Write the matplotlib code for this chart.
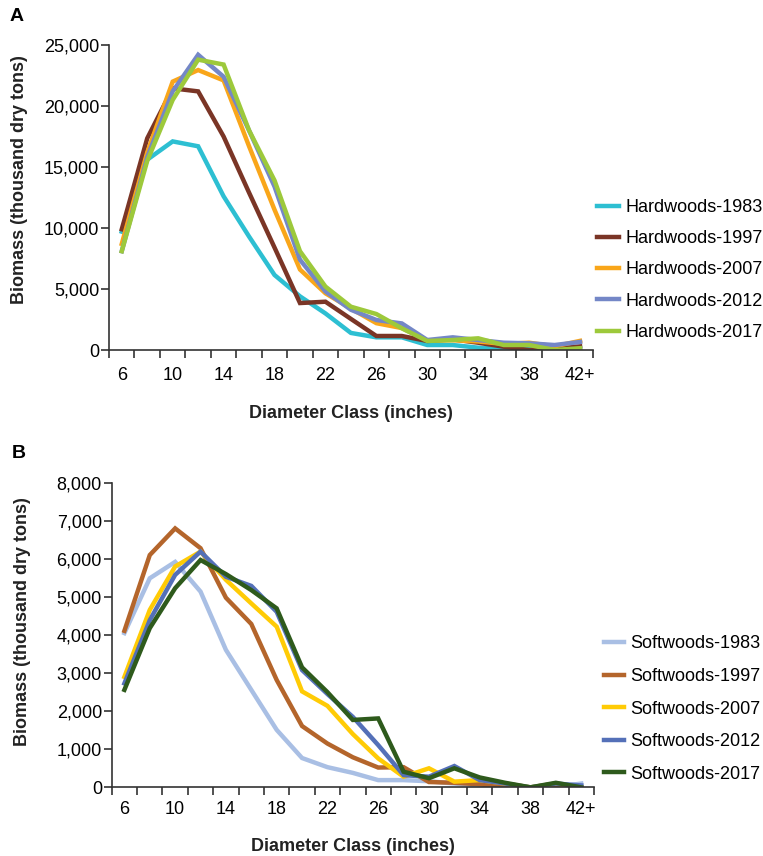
import numpy as np
import matplotlib
matplotlib.use('Agg')
import matplotlib.pyplot as plt
from matplotlib.ticker import FuncFormatter

plt.rcParams['font.family'] = ['Liberation Sans', 'DejaVu Sans']

#region Diameter classes (inches) and biomass (thousand dry tons).
classes = ['6', '8', '10', '12', '14', '16', '18', '20', '22', '24',
           '26', '28', '30', '32', '34', '36', '38', '40', '42+']

hw_years = ['1983', '1997', '2007', '2012', '2017']
hw_1983 = [9700, 15600, 17100, 16700, 12600, 9300, 6150, 4400, 3000, 1400,
           1040, 1040, 410, 410, 190, 80, 80, 80, 150]
hw_1997 = [9900, 17350, 21450, 21200, 17500, 12900, 8400, 3850, 3960, 2550,
           1150, 1150, 740, 870, 600, 270, 0, 150, 300]
hw_2007 = [8700, 16200, 22000, 22950, 22100, 16700, 11500, 6600, 4650, 3400,
           2200, 1800, 800, 800, 700, 500, 600, 300, 750]
hw_2012 = [8100, 15800, 21200, 24200, 22400, 18000, 13400, 7400, 4800, 3300,
           2460, 2180, 820, 1040, 820, 600, 550, 410, 660]
hw_2017 = [8100, 15500, 20500, 23800, 23400, 18000, 13900, 8100, 5200, 3550,
           2950, 1780, 740, 820, 960, 410, 410, 0, 150]
hw_colors = ['#2DBFD2', '#7A3526', '#F9A61A', '#7487C7', '#9DC93B']

sw_years = ['1983', '1997', '2007', '2012', '2017']
sw_1983 = [4050, 5490, 5920, 5140, 3610, 2560, 1510, 770, 530, 380,
           190, 190, 160, 100, 50, 10, 0, 10, 100]
sw_1997 = [4110, 6100, 6800, 6280, 4980, 4290, 2820, 1610, 1150, 790,
           520, 530, 140, 120, 80, 0, 0, 0, 0]
sw_2007 = [2900, 4660, 5800, 6190, 5450, 4830, 4220, 2520, 2140, 1400,
           760, 280, 500, 150, 190, 100, 0, 100, 0]
sw_2012 = [2730, 4390, 5580, 6190, 5530, 5290, 4610, 3080, 2450, 1850,
           1110, 320, 280, 560, 190, 100, 0, 100, 50]
sw_2017 = [2560, 4180, 5230, 5970, 5600, 5180, 4700, 3150, 2500, 1770,
           1810, 410, 240, 500, 260, 120, 0, 120, 0]
sw_colors = ['#A9BFE4', '#B4652B', '#FFCB05', '#5470B8', '#2E5A1C']
#endregion


def draw_panel(ax, series, years, colors, prefix, ymax, ystep, xpad, xlabpad, ylab_y):
    x = np.arange(len(classes))
    for vals, yr, c in zip(series, years, colors):
        ax.plot(x, vals, color=c, lw=3.2, solid_joinstyle='miter',
                label='%s-%s' % (prefix, yr))
    ax.set_xlim(-0.5, len(classes) - 0.5)
    ax.set_ylim(0, ymax)
    ax.set_yticks(np.arange(0, ymax + 1, ystep))
    ax.yaxis.set_major_formatter(FuncFormatter(lambda v, p: '{:,.0f}'.format(v)))
    # labels on every other class, tick marks on class boundaries
    ax.set_xticks(x[::2])
    ax.set_xticklabels(classes[::2])
    ax.set_xticks(np.arange(-0.5, len(classes), 1.0), minor=True)
    ax.tick_params(axis='x', which='major', length=0, pad=xpad, labelsize=13)
    ax.tick_params(axis='x', which='minor', length=6, width=1.2, color='#333333')
    ax.tick_params(axis='y', length=6, width=1.2, color='#333333', labelsize=13, pad=1)
    for s in ['top', 'right']:
        ax.spines[s].set_visible(False)
    for s in ['left', 'bottom']:
        ax.spines[s].set_color('#333333')
        ax.spines[s].set_linewidth(1.2)
    ax.set_xlabel('Diameter Class (inches)', fontsize=13, fontweight='bold',
                  labelpad=xlabpad, color='#222222')
    ax.set_ylabel('Biomass (thousand dry tons)', fontsize=13, fontweight='bold',
                  color='#222222')
    ax.yaxis.set_label_coords(-0.167, ylab_y)


fig = plt.figure(figsize=(7.63, 8.56), dpi=100)

axA = fig.add_axes([0.1429, 0.5911, 0.634, 0.3563])
draw_panel(axA, [hw_1983, hw_1997, hw_2007, hw_2012, hw_2017],
           hw_years, hw_colors, 'Hardwoods', 25000, 5000, 12, 15.5, 0.56)
axA.legend(loc='center left', bbox_to_anchor=(0.7825, 0.6846), bbox_transform=fig.transFigure,
           frameon=False, fontsize=13, handlelength=1.2, handletextpad=0.4,
           labelspacing=0.79, borderaxespad=0, borderpad=0)

axB = fig.add_axes([0.1464, 0.0802, 0.632, 0.3559])
draw_panel(axB, [sw_1983, sw_1997, sw_2007, sw_2012, sw_2017],
           sw_years, sw_colors, 'Softwoods', 8000, 1000, 9.5, 15, 0.545)
axB.legend(loc='center left', bbox_to_anchor=(0.792, 0.1717), bbox_transform=fig.transFigure,
           frameon=False, fontsize=13, handlelength=1.1, handletextpad=0.35,
           labelspacing=0.86, borderaxespad=0, borderpad=0)

fig.text(0.012, 0.981, 'A', fontsize=14, fontweight='bold', va='center')
fig.text(0.015, 0.47, 'B', fontsize=14, fontweight='bold', va='center')

fig.savefig('out.png', dpi=100)
